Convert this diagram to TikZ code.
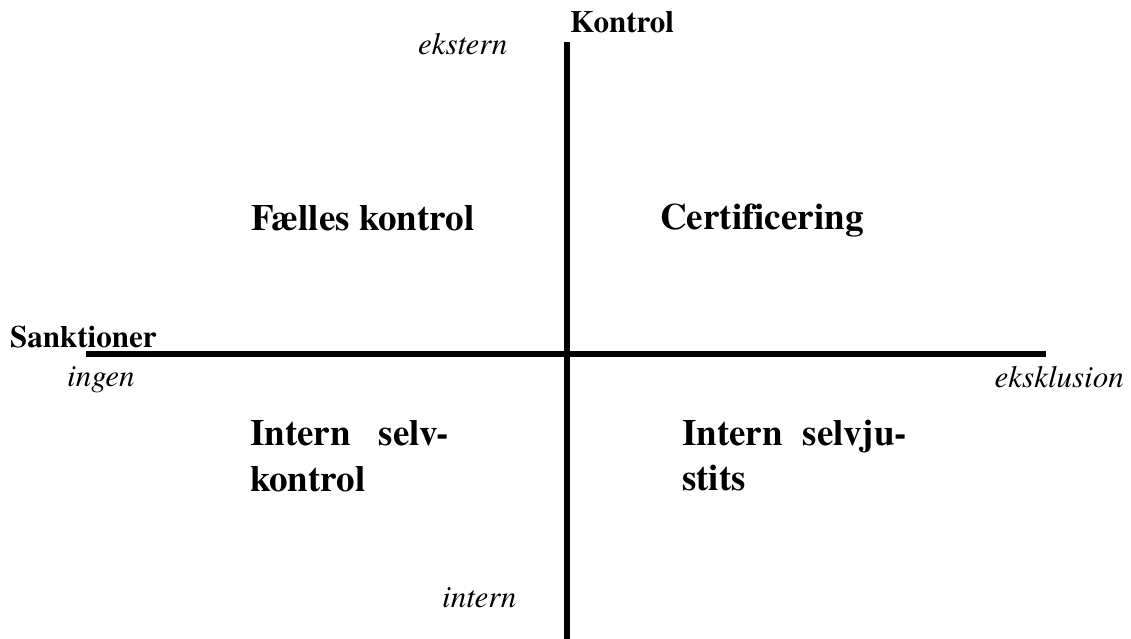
\documentclass[tikz,border=0pt]{standalone}
\usepackage{fontspec}
\setmainfont{texgyretermes}[Extension=.otf,UprightFont=*-regular,BoldFont=*-bold,ItalicFont=*-italic,BoldItalicFont=*-bolditalic]
\begin{document}
\begin{tikzpicture}[x=1pt,y=-1pt,
  axis/.style={line width=6pt,line cap=butt,black},
  big/.style={anchor=base west,inner sep=0pt,font=\fontsize{37}{44}\selectfont\bfseries},
  axlabel/.style={anchor=base west,inner sep=0pt,font=\fontsize{31}{37}\selectfont\bfseries},
  pole/.style={anchor=base west,inner sep=0pt,font=\fontsize{31}{37}\selectfont\itshape}]
\useasboundingbox (0,0) rectangle (1131,639);
\fill[white] (0,0) rectangle (1131,639);
% axes
\coordinate (vtop) at (566.5,42);
\coordinate (vbot) at (566.5,639);
\coordinate (hleft) at (86,354);
\coordinate (hright) at (1046,354);
\draw[axis] (vtop) -- (vbot);
\draw[axis] (hleft) -- (hright);
% axis labels
\node[axlabel] (kontrol) at (570,33) {Kontrol};
\node[axlabel] (sanktioner) at (10,347) {Sanktioner};
\node[pole] (ekstern) at (418,55) {ekstern};
\node[pole] (intern) at (442,607) {intern};
\node[pole] (ingen) at (67,386) {ingen};
\node[pole,anchor=base east] (eksklusion) at (1124,387) {eksklusion};
% quadrant labels
\node[big] (faelles) at (251,230) {Fælles kontrol};
\node[big] (cert) at (660,229) {Certif\kern0pt icering};
\node[big] (isk1) at (250,445) {Intern\hspace{28pt}selv-};
\node[big] (isk2) at (250,491) {kontrol};
\node[big] (isj1) at (682,445) {Intern\hspace{20pt}selvju-};
\node[big] (isj2) at (682,490) {stits};
\end{tikzpicture}
\end{document}
